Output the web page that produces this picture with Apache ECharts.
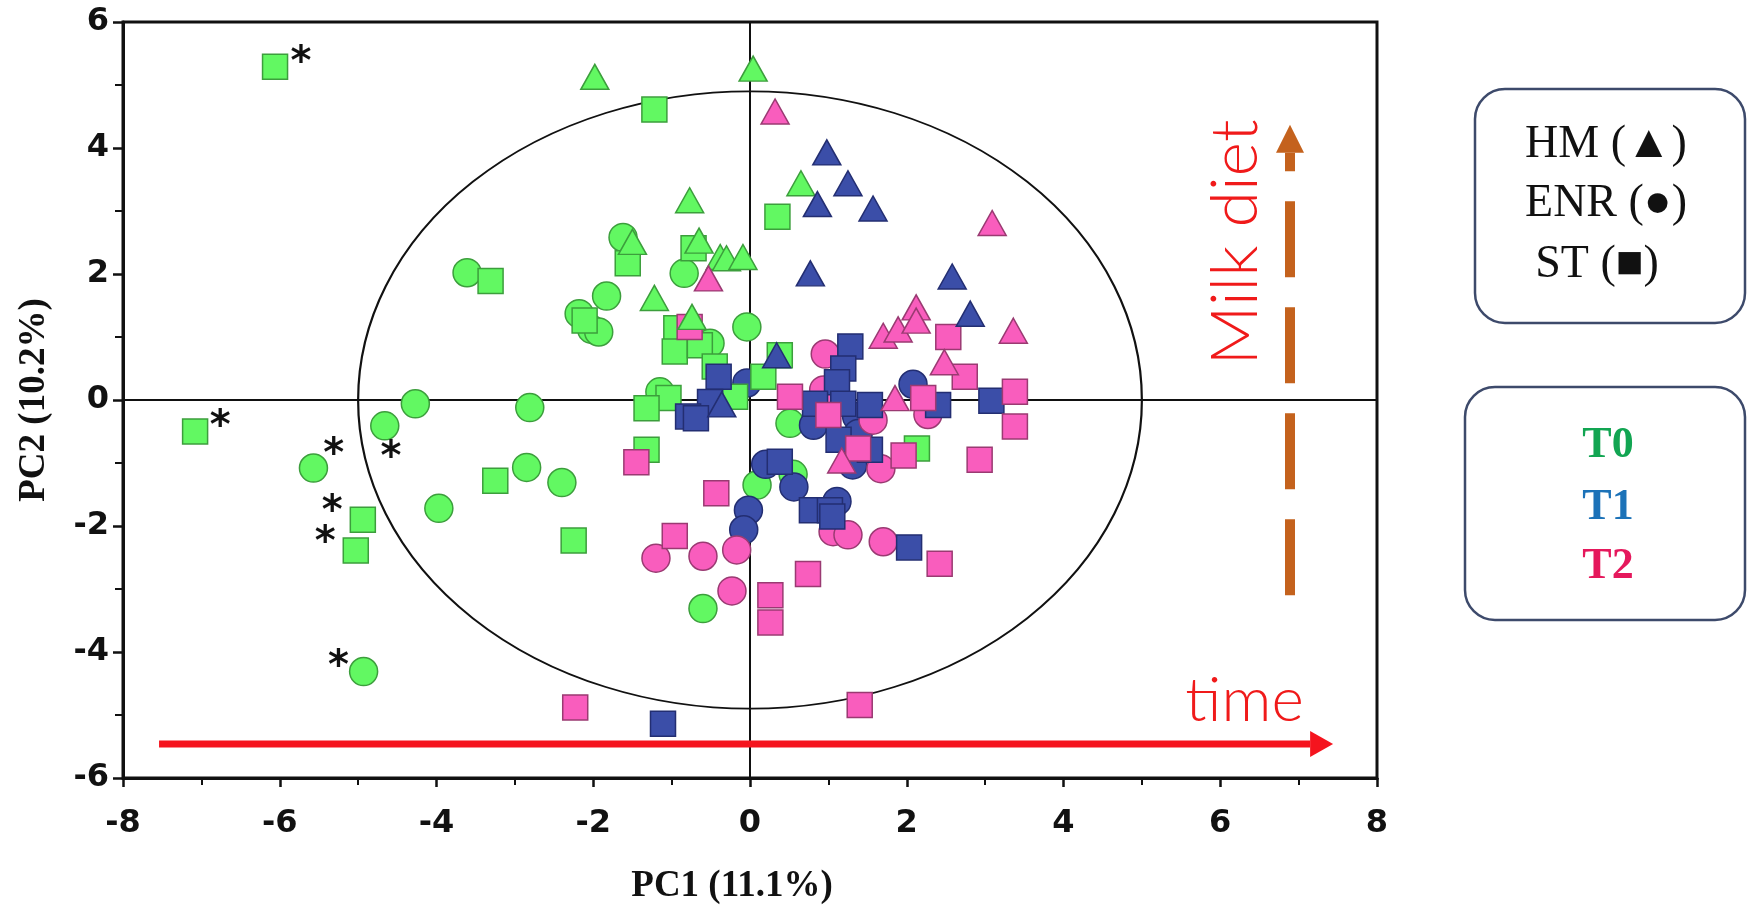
<!DOCTYPE html>
<html>
<head>
<meta charset="utf-8">
<title>PCA</title>
<script src="https://cdn.jsdelivr.net/npm/echarts/dist/echarts.min.js"></script>
<style>
  html, body { margin: 0; padding: 0; background: #fff; }
  #main { width: 1749px; height: 912px; }
</style>
</head>
<body>
<div id="main"></div>
<script>
// T0 (green)
const t0HM = [[-1.98, 5.13], [0.04, 5.26], [-0.77, 3.17], [0.65, 3.44], [-1.50, 2.51], [-0.65, 2.53],
  [-0.38, 2.27], [-0.30, 2.25], [-0.09, 2.27], [-1.22, 1.62], [-0.74, 1.32]];
const t0ENR = [[-3.61, 2.02], [-1.62, 2.58], [-0.84, 2.01], [-1.83, 1.65], [-2.18, 1.37], [-2.02, 1.12],
  [-1.93, 1.08], [-0.04, 1.16], [-0.51, 0.90], [-1.15, 0.13], [-4.27, -0.06], [-2.81, -0.12],
  [-4.66, -0.41], [-5.57, -1.08], [-2.85, -1.07], [-2.40, -1.31], [-3.97, -1.72], [-4.93, -4.31],
  [0.09, -1.35], [0.55, -1.18], [0.51, -0.37], [-0.60, -3.31]];
const t0ST = [[-6.06, 5.29], [-1.22, 4.61], [0.35, 2.91], [-3.31, 1.89], [-1.56, 2.17], [-0.72, 2.41],
  [-2.11, 1.26], [-0.94, 1.14], [-0.96, 0.77], [-0.64, 0.87], [-0.45, 0.53], [0.38, 0.71],
  [0.17, 0.37], [-0.19, 0.05], [-1.04, 0.03], [-1.32, -0.13], [-7.08, -0.50], [-1.32, -0.79],
  [-3.25, -1.28], [-4.94, -1.90], [-5.03, -2.39], [-2.25, -2.23], [2.13, -0.77]];
// T1 (blue)
const t1HM = [[0.98, 3.93], [1.25, 3.44], [0.86, 3.11], [1.57, 3.04], [0.77, 2.01], [2.58, 1.96],
  [2.81, 1.37], [0.34, 0.71], [-0.36, -0.07]];
const t1ENR = [[-0.04, 0.27], [0.20, -1.02], [0.56, -1.38], [-0.02, -1.75], [-0.08, -2.06], [0.81, -0.40],
  [1.36, -0.26], [1.38, -0.53], [1.31, -1.03], [1.11, -1.61], [2.08, 0.25]];
const t1ST = [[1.28, 0.85], [1.19, 0.50], [1.11, 0.28], [0.83, -0.06], [1.19, -0.06], [1.53, -0.08],
  [-0.40, 0.37], [-0.51, -0.03], [-0.79, -0.26], [-0.69, -0.29], [2.40, -0.08], [3.08, -0.01],
  [1.13, -0.63], [1.53, -0.79], [0.38, -0.98], [0.79, -1.75], [1.02, -1.75], [1.05, -1.85],
  [2.03, -2.34], [-1.11, -5.14]];
// T2 (pink)
const t2HM = [[0.32, 4.58], [3.09, 2.81], [-0.53, 1.93], [1.70, 1.02], [1.89, 1.12], [2.12, 1.47],
  [2.12, 1.26], [3.36, 1.10], [2.48, 0.60], [1.85, 0.03], [1.17, -0.96]];
const t2ENR = [[0.96, 0.73], [0.94, 0.16], [1.57, -0.32], [2.27, -0.23], [1.67, -1.09], [1.06, -2.09],
  [1.25, -2.14], [1.70, -2.25], [-0.17, -2.38], [-0.60, -2.48], [-1.20, -2.51], [-0.23, -3.03]];
const t2ST = [[-0.77, 1.16], [0.51, 0.05], [2.53, 1.00], [2.74, 0.37], [2.21, 0.03], [3.38, 0.13],
  [3.38, -0.42], [1.00, -0.24], [1.38, -0.77], [1.96, -0.88], [2.93, -0.95], [-1.45, -0.99],
  [-0.43, -1.48], [-0.96, -2.16], [0.74, -2.76], [2.42, -2.60], [0.26, -3.10], [0.26, -3.53],
  [-2.23, -4.88], [1.40, -4.84]];

// outliers marked with *
const starMarks = [[-5.73, 5.45], [-6.76, -0.32], [-5.31, -0.77], [-4.58, -0.82], [-5.33, -1.67],
  [-5.42, -2.17], [-5.25, -4.13]];

const xTicks = [-8, 8, 2];
const yTicks = [-6, 6, 2];
const ellipseR = [5.0, 4.9];

// arrows and their words
const timeArrow = [[-7.54, -5.46], [7.44, -5.46]];
const dietArrow = [[6.89, -3.10], [6.89, 4.37]];
const timeWord = [6.31, -4.78];
const dietWord = [6.2, 2.5];

const colors = {
  T0: { fill: '#62F862', line: '#3C9E3C' },
  T1: { fill: '#3B4EA8', line: '#232E72' },
  T2: { fill: '#F95DBD', line: '#9A3A72' }
};

function pts(name, data, time, symbol) {
  let size = 28;
  if (symbol === 'rect') size = 25;
  if (symbol === 'triangle') size = [28, 25];
  return {
    name: name,
    type: 'scatter',
    data: data,
    symbol: symbol,
    symbolSize: size,
    silent: true,
    itemStyle: { color: colors[time].fill, borderColor: colors[time].line, borderWidth: 1.5, opacity: 1 },
    z: 3
  };
}

function arrow(api, a, b, color, width, headLen, headHalf, dash) {
  const p0 = api.coord(a), p1 = api.coord(b);
  const dx = p1[0] - p0[0], dy = p1[1] - p0[1];
  const len = Math.hypot(dx, dy);
  const ux = dx / len, uy = dy / len;
  const bx = p1[0] - ux * headLen, by = p1[1] - uy * headLen;
  return [
    { type: 'line', shape: { x1: p0[0], y1: p0[1], x2: bx, y2: by },
      style: { stroke: color, lineWidth: width, lineDash: dash || null } },
    { type: 'polygon', shape: { points: [[p1[0], p1[1]], [bx - uy * headHalf, by + ux * headHalf], [bx + uy * headHalf, by - ux * headHalf]] },
      style: { fill: color } }
  ];
}

const chart = echarts.init(document.getElementById('main'));

const option = {
  animation: false,
  backgroundColor: '#fff',
  grid: { left: 123, right: 372, top: 22, bottom: 134, show: true, borderColor: '#111', borderWidth: 3 },
  xAxis: {
    type: 'value', min: xTicks[0], max: xTicks[1], interval: xTicks[2],
    name: 'PC1 (11.1%)', nameLocation: 'middle', nameGap: 90,
    nameTextStyle: { fontFamily: 'Liberation Serif', fontWeight: 'bold', fontSize: 37, color: '#111', padding: [0, 36, 0, 0] },
    axisLine: { onZero: false, lineStyle: { color: '#111', width: 3 } },
    axisTick: { length: 9, lineStyle: { color: '#111', width: 2.5 } },
    minorTick: { show: true, splitNumber: 2, length: 7, lineStyle: { color: '#111', width: 2 } },
    splitLine: { show: false },
    axisLabel: { fontFamily: 'DejaVu Sans', fontWeight: 'bold', fontSize: 32, color: '#111', margin: 30 }
  },
  yAxis: {
    type: 'value', min: yTicks[0], max: yTicks[1], interval: yTicks[2],
    name: 'PC2 (10.2%)', nameLocation: 'middle', nameGap: 70,
    nameTextStyle: { fontFamily: 'Liberation Serif', fontWeight: 'bold', fontSize: 37, color: '#111' },
    axisLine: { onZero: false, lineStyle: { color: '#111', width: 3 } },
    axisTick: { length: 10, lineStyle: { color: '#111', width: 2.5 } },
    minorTick: { show: true, splitNumber: 2, length: 8, lineStyle: { color: '#111', width: 2 } },
    splitLine: { show: false },
    axisLabel: { fontFamily: 'DejaVu Sans', fontWeight: 'bold', fontSize: 32, color: '#111', margin: 14 }
  },
  series: [
    {
      // cross lines at 0 and the ellipse
      type: 'custom',
      silent: true,
      z: 1,
      data: [[0, 0]],
      renderItem: function (params, api) {
        const c = api.coord([0, 0]);
        const s = api.size(ellipseR);
        const lt = api.coord([xTicks[0], yTicks[1]]);
        const rb = api.coord([xTicks[1], yTicks[0]]);
        return {
          type: 'group',
          children: [
            { type: 'line', shape: { x1: c[0], y1: lt[1], x2: c[0], y2: rb[1] }, style: { stroke: '#111', lineWidth: 2 } },
            { type: 'line', shape: { x1: lt[0], y1: c[1], x2: rb[0], y2: c[1] }, style: { stroke: '#111', lineWidth: 2 } },
            { type: 'circle', x: c[0], y: c[1], scaleY: s[1] / s[0], shape: { cx: 0, cy: 0, r: s[0] },
              style: { fill: null, stroke: '#111', lineWidth: 2.2, strokeNoScale: true } }
          ]
        };
      }
    },
    pts('T0 ENR', t0ENR, 'T0', 'circle'),
    pts('T1 ENR', t1ENR, 'T1', 'circle'),
    pts('T2 ENR', t2ENR, 'T2', 'circle'),
    pts('T0 ST', t0ST, 'T0', 'rect'),
    pts('T1 ST', t1ST, 'T1', 'rect'),
    pts('T2 ST', t2ST, 'T2', 'rect'),
    pts('T0 HM', t0HM, 'T0', 'triangle'),
    pts('T1 HM', t1HM, 'T1', 'triangle'),
    pts('T2 HM', t2HM, 'T2', 'triangle'),
    {
      type: 'custom',
      silent: true,
      z: 4,
      data: starMarks,
      renderItem: function (params, api) {
        const p = api.coord([api.value(0), api.value(1)]);
        return { type: 'text', x: p[0], y: p[1] + 7,
          style: { text: '*', font: 'bold 40px "DejaVu Sans"', fill: '#111', align: 'center', verticalAlign: 'middle' } };
      }
    },
    {
      type: 'custom',
      silent: true,
      z: 5,
      data: [[0, 0]],
      renderItem: function (params, api) {
        const tw = api.coord(timeWord);
        const dw = api.coord(dietWord);
        const kids = []
          .concat(arrow(api, timeArrow[0], timeArrow[1], '#F5141E', 7, 23, 13))
          .concat(arrow(api, dietArrow[0], dietArrow[1], '#C4621D', 10, 28, 14, [76, 30]));
        kids.push({ type: 'text', x: tw[0], y: tw[1],
          style: { text: 'time', font: '300 62px Lato', fill: '#F01A1A', align: 'center', verticalAlign: 'middle' } });
        kids.push({ type: 'text', x: dw[0], y: dw[1], rotation: Math.PI / 2,
          style: { text: 'Milk diet', font: '300 66px Lato', fill: '#F01A1A', align: 'center', verticalAlign: 'middle' } });
        return { type: 'group', children: kids };
      }
    }
  ],
  graphic: [
    { type: 'rect', shape: { x: 1475, y: 89, width: 270, height: 234, r: 30 },
      style: { fill: '#fff', stroke: '#3D4A6B', lineWidth: 2.5 } },
    { type: 'text', style: { x: 1606, y: 145, text: 'HM (▲)', font: '46px "Liberation Serif"', fill: '#111', align: 'center', verticalAlign: 'middle' } },
    { type: 'text', style: { x: 1606, y: 204, text: 'ENR (●)', font: '46px "Liberation Serif"', fill: '#111', align: 'center', verticalAlign: 'middle' } },
    { type: 'text', style: { x: 1597, y: 265, text: 'ST (■)', font: '46px "Liberation Serif"', fill: '#111', align: 'center', verticalAlign: 'middle' } },
    { type: 'rect', shape: { x: 1465, y: 387, width: 280, height: 233, r: 30 },
      style: { fill: '#fff', stroke: '#3D4A6B', lineWidth: 2.5 } },
    { type: 'text', style: { x: 1608, y: 446, text: 'T0', font: 'bold 44px "Liberation Serif"', fill: '#12A552', align: 'center', verticalAlign: 'middle' } },
    { type: 'text', style: { x: 1608, y: 508, text: 'T1', font: 'bold 44px "Liberation Serif"', fill: '#1C72B8', align: 'center', verticalAlign: 'middle' } },
    { type: 'text', style: { x: 1608, y: 567, text: 'T2', font: 'bold 44px "Liberation Serif"', fill: '#E5185C', align: 'center', verticalAlign: 'middle' } }
  ]
};

chart.setOption(option);
</script>
</body>
</html>
